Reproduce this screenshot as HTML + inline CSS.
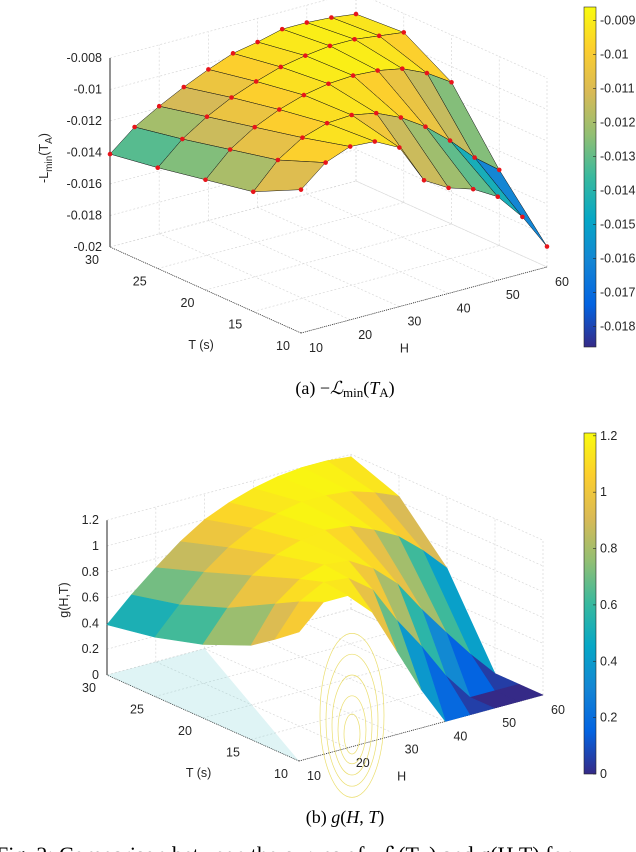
<!DOCTYPE html>
<html><head><meta charset="utf-8"><style>
html,body{margin:0;padding:0;background:#fff;}
svg{display:block;font-family:"Liberation Sans",sans-serif;}
.tk{font-size:12.5px;fill:#262626;}
.cap{font-family:"Liberation Serif",serif;font-size:18px;fill:#000;}
</style></head><body>
<svg id="root" width="636" height="852" viewBox="0 0 636 852" xmlns="http://www.w3.org/2000/svg">
<defs>
<linearGradient id="parula" x1="0" y1="1" x2="0" y2="0">
<stop offset="0" stop-color="#352a87"/><stop offset="0.125" stop-color="#0363e1"/>
<stop offset="0.25" stop-color="#1485d4"/><stop offset="0.375" stop-color="#06a7c6"/>
<stop offset="0.5" stop-color="#38b99e"/><stop offset="0.625" stop-color="#92bf73"/>
<stop offset="0.75" stop-color="#d9ba56"/><stop offset="0.875" stop-color="#fcce2e"/>
<stop offset="1" stop-color="#f9fb0e"/>
</linearGradient>
</defs>
<g id="chartA"></g>
<g id="chartB"></g>
<text class="cap" x="345" y="394" text-anchor="middle">(a) −<tspan font-style="italic">ℒ</tspan><tspan font-size="13" dy="3">min</tspan><tspan dy="-3">(</tspan><tspan font-style="italic">T</tspan><tspan font-size="13" dy="3">A</tspan><tspan dy="-3">)</tspan></text>
<text class="cap" x="345" y="823" text-anchor="middle">(b) <tspan font-style="italic">g</tspan>(<tspan font-style="italic">H</tspan>, <tspan font-style="italic">T</tspan>)</text>
<text x="-4" y="862" font-family="Liberation Serif, serif" font-size="22" fill="#000">Fig. 2:  Comparison between the curves of −ℒ(T<tspan font-size="14">A</tspan>) and g(H,T) for</text>
</svg>
<script>
// ---- data ----
const hValues = [10,15,20,25,30,35,40,45,50,55,60];
const tValuesA = [10,15,20,25,30];
const tValuesB = [10,12.5,15,20,25,30];
const lminRowT10 = [-0.0109,-0.0096,-0.0090,-0.0091,-0.0099,-0.0124,-0.0133,-0.0138,-0.0147,-0.0164,-0.0187];
const lminRowT15 = [-0.0124,-0.0108,-0.0098,-0.0093,-0.0092,-0.0095,-0.0102,-0.0112,-0.0125,-0.0140,-0.0152];
const lminRowT20 = [-0.0130,-0.0115,-0.0105,-0.0098,-0.0093,-0.0090,-0.0089,-0.0090,-0.0093,-0.0100,-0.0110];
const lminRowT25 = [-0.0136,-0.0122,-0.0112,-0.0104,-0.0098,-0.0093,-0.0090,-0.0088,-0.0088,-0.0090,-0.0092];
const lminRowT30 = [-0.0141,-0.0128,-0.0119,-0.0111,-0.0104,-0.0098,-0.0095,-0.0091,-0.0091,-0.0092,-0.0094];
const gRowT10 = [1.0,1.18,1.18,1.0,0.65,0.3,0,0,0,0,0];
const gRowT12 = [0.86,1.1,1.2,1.18,1.04,0.75,0.5,0.22,0,0,0];
const gRowT15 = [0.73,1.0,1.14,1.2,1.18,1.07,0.9,0.65,0.42,0.2,0];
const gRowT20 = [0.57,0.8,1.0,1.11,1.17,1.2,1.18,1.1,1.0,0.84,0.65];
const gRowT25 = [0.46,0.66,0.86,1.0,1.1,1.16,1.2,1.2,1.18,1.12,1.04];
const gRowT30 = [0.39,0.57,0.73,0.88,1.0,1.08,1.14,1.18,1.2,1.2,1.18];
const zTicksA = [-0.02,-0.018,-0.016,-0.014,-0.012,-0.01,-0.008];
const zTickLabelsA = ["-0.02","-0.018","-0.016","-0.014","-0.012","-0.01","-0.008"];
const zTicksB = [0,0.2,0.4,0.6,0.8,1,1.2];
const zTickLabelsB = ["0","0.2","0.4","0.6","0.8","1","1.2"];
const hTicks = [10,20,30,40,50,60];
const tTicks = [10,15,20,25,30];
const cbTicksA = [-0.018,-0.017,-0.016,-0.015,-0.014,-0.013,-0.012,-0.011,-0.01,-0.009];
const cbLabelsA = ["-0.018","-0.017","-0.016","-0.015","-0.014","-0.013","-0.012","-0.011","-0.01","-0.009"];
const cbTicksB = [0,0.2,0.4,0.6,0.8,1,1.2];
const cbLabelsB = ["0","0.2","0.4","0.6","0.8","1","1.2"];

const NS="http://www.w3.org/2000/svg";
const stops=[[0,[53,42,135]],[0.125,[3,99,225]],[0.25,[20,133,212]],[0.375,[6,167,198]],[0.5,[56,185,158]],[0.625,[146,191,115]],[0.75,[217,186,86]],[0.875,[252,206,46]],[1,[249,251,14]]];
function parula(t){t=Math.max(0,Math.min(1,t));for(let i=1;i<stops.length;i++){if(t<=stops[i][0]){const a=stops[i-1],b=stops[i];const f=(t-a[0])/(b[0]-a[0]);const c=a[1].map((v,k)=>Math.round(v+(b[1][k]-v)*f));return `rgb(${c[0]},${c[1]},${c[2]})`;}}return 'rgb(249,251,14)';}
function mk(parent,tag,attrs){const e=document.createElementNS(NS,tag);for(const k in attrs)e.setAttribute(k,attrs[k]);parent.appendChild(e);return e;}

function drawChart(g,cfg){
  const P=(H,T,z)=>{const a=(H-10)/50,b=(T-10)/20;return [cfg.ox+a*cfg.hx+b*cfg.tx, cfg.oy+a*cfg.hy+b*cfg.ty-(z-cfg.zmin)*cfg.zs];};
  const gridStyle={stroke:'#d8d8d8','stroke-width':0.7,'stroke-dasharray':'2,2',fill:'none'};
  hTicks.forEach(h=>{const a=P(h,10,cfg.zmin),b=P(h,30,cfg.zmin);const l=mk(g,'line',Object.assign({x1:a[0],y1:a[1],x2:b[0],y2:b[1]},gridStyle));
    
    });
  tTicks.forEach(t=>{const a=P(10,t,cfg.zmin),b=P(60,t,cfg.zmin);const l=mk(g,'line',Object.assign({x1:a[0],y1:a[1],x2:b[0],y2:b[1]},gridStyle));
    
    });
  cfg.zTicks.forEach(z=>{const a=P(10,30,z),b=P(60,30,z),c=P(60,10,z);const l=mk(g,'polyline',Object.assign({points:`${a} ${b} ${c}`},gridStyle));
    
    });
  const ztop=cfg.zTicks[cfg.zTicks.length-1];
  hTicks.forEach(h=>{const a=P(h,30,cfg.zmin),b=P(h,30,ztop);const l=mk(g,'line',Object.assign({x1:a[0],y1:a[1],x2:b[0],y2:b[1]},gridStyle));
    
    });
  tTicks.forEach(t=>{const a=P(60,t,cfg.zmin),b=P(60,t,ztop);const l=mk(g,'line',Object.assign({x1:a[0],y1:a[1],x2:b[0],y2:b[1]},gridStyle));
    
    });
  let a=P(10,30,cfg.zmin),b=P(10,30,ztop);
  let ax=mk(g,'line',{x1:a[0],y1:a[1],x2:b[0],y2:b[1],stroke:'#262626','stroke-width':1});
  
  
  a=P(10,10,cfg.zmin);b=P(10,30,cfg.zmin);
  ax=mk(g,'line',{x1:a[0],y1:a[1],x2:b[0],y2:b[1],stroke:'#262626','stroke-width':0.8,'stroke-dasharray':'1,1'});
  
  
  a=P(10,10,cfg.zmin);b=P(60,10,cfg.zmin);
  ax=mk(g,'line',{x1:a[0],y1:a[1],x2:b[0],y2:b[1],stroke:'#262626','stroke-width':0.8,'stroke-dasharray':'1,1'});
  
  
  cfg.zTicks.forEach((z,i)=>{const p=P(10,30,z);const t=mk(g,'text',{x:p[0]-8,y:p[1]+4,'text-anchor':'end',class:'tk'});t.textContent=cfg.zLabels[i];
    
    });
  tTicks.forEach(tv=>{const p=P(10,tv,cfg.zmin);const t=mk(g,'text',{x:p[0]-18,y:p[1]+17,'text-anchor':'middle',class:'tk'});t.textContent=String(tv);
    
    });
  hTicks.forEach(hv=>{const p=P(hv,10,cfg.zmin);const t=mk(g,'text',{x:p[0]+15,y:p[1]+19,'text-anchor':'middle',class:'tk'});t.textContent=String(hv);
    
    });
  let p=P(20,12,cfg.zmin);
  let tt=mk(g,'text',{x:p[0]-130,y:p[1]+38,'text-anchor':'middle',class:'tk','font-size':'13.5'});tt.textContent='T (s)';
  
  
  p=P(30,10,cfg.zmin);
  tt=mk(g,'text',{x:p[0]+5,y:p[1]+46,'text-anchor':'middle',class:'tk','font-size':'13.5'});tt.textContent='H';
  
  
  tt=mk(g,'text',{transform:`translate(${cfg.ztx},${cfg.zty}) rotate(-90)`,'text-anchor':'middle',class:'tk','font-size':'14'});
  tt.innerHTML=cfg.zTitle;
  
  
  if(cfg.floorDeco) cfg.floorDeco(g,P);
  const rows=cfg.rows, tv=cfg.tValues;const cells=[];
  for(let j=0;j<tv.length-1;j++)for(let i=0;i<hValues.length-1;i++){
    const zs=[rows[j][i],rows[j][i+1],rows[j+1][i+1],rows[j+1][i]];
    cells.push({i,j,zs,d:(hValues[i]-10)/50+(tv[j]-10)/20});
  }
  cells.sort((a,b)=>b.d-a.d);
  cells.forEach(c=>{
    const pts=[P(hValues[c.i],tv[c.j],c.zs[0]),P(hValues[c.i+1],tv[c.j],c.zs[1]),P(hValues[c.i+1],tv[c.j+1],c.zs[2]),P(hValues[c.i],tv[c.j+1],c.zs[3])];
    const avg=(c.zs[0]+c.zs[1]+c.zs[2]+c.zs[3])/4;
    const col=parula((avg-cfg.cmin)/(cfg.cmax-cfg.cmin));
    const poly=mk(g,'polygon',{points:pts.map(q=>q.join(',')).join(' '),fill:col,stroke:cfg.edge?'#111':col,'stroke-width':cfg.edge?0.5:0.6,'stroke-linejoin':'round'});
    
    
  });
  if(cfg.dots){
    for(let j=0;j<tv.length;j++)for(let i=0;i<hValues.length;i++){
      const q=P(hValues[i],tv[j],rows[j][i]);
      const d=mk(g,'circle',{cx:q[0],cy:q[1],r:2.3,fill:'#e8141a'});
      
      
    }
  }
  const cb=mk(g,'rect',{x:cfg.cbx,y:cfg.cby0,width:12,height:cfg.cby1-cfg.cby0,fill:'url(#parula)',stroke:'#262626','stroke-width':0.6});
  
  
  const cy=v=>cfg.cby1-(v-cfg.cmin)/(cfg.cmax-cfg.cmin)*(cfg.cby1-cfg.cby0);
  cfg.cbTicks.forEach((v,i)=>{const y=cy(v);mk(g,'line',{x1:cfg.cbx+12,y1:y,x2:cfg.cbx+9,y2:y,stroke:'#262626','stroke-width':0.6});
    const t=mk(g,'text',{x:cfg.cbx+16,y:y+4,class:'tk'});t.textContent=cfg.cbLabels[i];
    
    });
}

drawChart(document.getElementById('chartA'),{
  ox:301,oy:333,hx:246,hy:-66,tx:-191,ty:-86,zmin:-0.02,zs:15750,
  zTicks:zTicksA,zLabels:zTickLabelsA,tValues:tValuesA,
  rows:[lminRowT10,lminRowT15,lminRowT20,lminRowT25,lminRowT30],
  cmin:-0.0186,cmax:-0.0086,edge:true,dots:true,
  cbx:584,cby0:7,cby1:347,cbTicks:cbTicksA,cbLabels:cbLabelsA,
  ztx:48,zty:158,
  zTitle:'-L<tspan font-size="10" dy="4">min</tspan><tspan dy="-4">(T</tspan><tspan font-size="10" dy="4">A</tspan><tspan dy="-4">)</tspan>'
});
drawChart(document.getElementById('chartB'),{
  ox:299,oy:761,hx:244,hy:-66,tx:-192,ty:-86,zmin:0,zs:129,
  zTicks:zTicksB,zLabels:zTickLabelsB,tValues:tValuesB,
  rows:[gRowT10,gRowT12,gRowT15,gRowT20,gRowT25,gRowT30],
  cmin:0,cmax:1.21,edge:false,dots:false,
  cbx:584,cby0:433,cby1:774,cbTicks:cbTicksB,cbLabels:cbLabelsB,
  ztx:68,zty:600,
  zTitle:'g(H,T)',
  floorDeco:(g,P)=>{
    const a=P(10,10,0),b=P(10,30,0),c=P(30,30,0);
    const tri=mk(g,'polygon',{points:`${a} ${b} ${c}`,fill:'#7fd3d6','fill-opacity':0.25});
    
    
    [[8,20],[14,34],[20,50],[26,66],[32,82]].forEach(r=>{
      const e=mk(g,'ellipse',{cx:352,cy:740-r[1]*0.3,rx:r[0],ry:r[1],fill:'none',stroke:'#e6d64a','stroke-width':0.7,'stroke-opacity':0.8});
      
      
    });
  }
});
</script>
</body></html>
